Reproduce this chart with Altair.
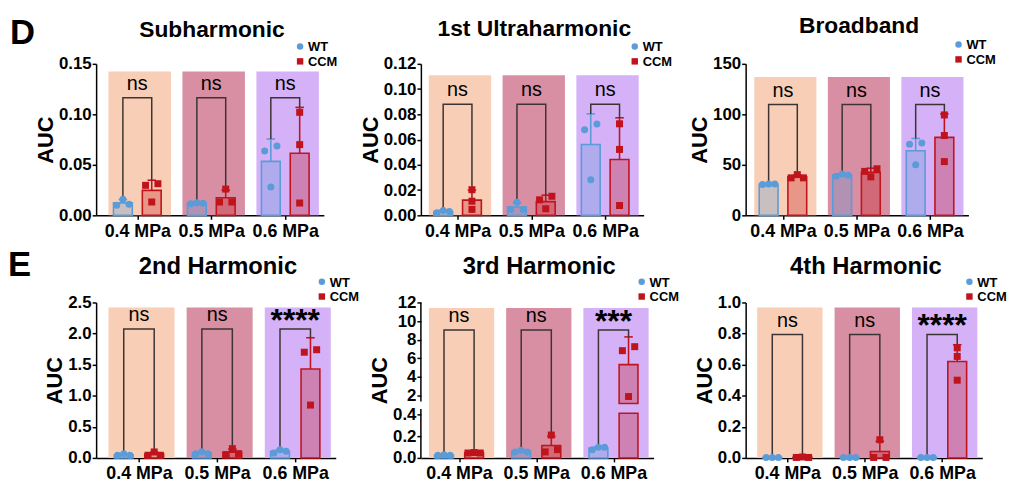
import altair as alt
import numpy as np
import pandas as pd

# ---------------- data ----------------
pressures = ["0.4 MPa", "0.5 MPa", "0.6 MPa"]
groups = ["WT", "CCM"]
panel_titles = ["Subharmonic", "1st Ultraharmonic", "Broadband",
                "2nd Harmonic", "3rd Harmonic", "4th Harmonic"]
panel_letters = ["D", "E"]

# replicate AUC values per pressure (listed left-to-right as drawn)
sub_wt = [[0.010, 0.016, 0.011], [0.0115, 0.0125, 0.012], [0.0636, 0.028, 0.0686]]
sub_ccm = [[0.0297, 0.0132, 0.0313], [0.0132, 0.026, 0.0132], [0.102, 0.070, 0.0122]]
ultra_wt = [[0.0021, 0.0039, 0.0031], [0.0047, 0.0104, 0.0047], [0.0678, 0.0282, 0.0723]]
ultra_ccm = [[0.0203, 0.0112, 0.0047], [0.0123, 0.0052, 0.0151], [0.0725, 0.0522, 0.0078]]
broad_wt = [[30.5, 31.0, 31.0], [38.7, 41.0, 39.7], [50.0, 70.3, 71.6]]
broad_ccm = [[37.1, 40.3, 37.1], [43.5, 38.1, 46.1], [99.4, 79.0, 53.2]]
h2_wt = [[0.043, 0.069, 0.043], [0.069, 0.100, 0.069], [0.080, 0.133, 0.106]]
h2_ccm = [[0.043, 0.096, 0.043], [0.053, 0.149, 0.069], [1.70, 0.85, 1.74]]
h3_wt = [[0.024, 0.030, 0.024], [0.055, 0.070, 0.055], [0.076, 0.097, 0.097]]
h3_ccm = [[0.045, 0.050, 0.045], [0.055, 0.21, 0.076], [6.82, 1.89, 7.25]]
h4_wt = [[0.002, 0.002, 0.002], [0.002, 0.002, 0.002], [0.002, 0.003, 0.003]]
h4_ccm = [[0.003, 0.006, 0.003], [0.003, 0.117, 0.003], [0.708, 0.653, 0.50]]

significance = [["ns", "ns", "ns"], ["ns", "ns", "ns"], ["ns", "ns", "ns"],
                ["ns", "ns", "****"], ["ns", "ns", "***"], ["ns", "ns", "****"]]
bracket_heights = [0.1164, 0.0879, 109.7, 2.074, 9.04, 0.794]
y_ticks = [[0, 0.05, 0.10, 0.15],
           [0, 0.02, 0.04, 0.06, 0.08, 0.10, 0.12],
           [0, 50, 100, 150],
           [0, 0.5, 1.0, 1.5, 2.0, 2.5],
           [0, 0.2, 0.4, 2, 4, 6, 8, 10, 12],
           [0, 0.2, 0.4, 0.6, 0.8, 1.0]]
all_wt = [sub_wt, ultra_wt, broad_wt, h2_wt, h3_wt, h4_wt]
all_ccm = [sub_ccm, ultra_ccm, broad_ccm, h2_ccm, h3_ccm, h4_ccm]

# ---------------- style / layout ----------------
FONT = "Liberation Sans"
BLUE = "#5a9bd8"
RED = "#c0141c"
BAND_COLORS = ["#f8cfb6", "#d98fa3", "#d5b2f7"]
BRACKET = "#3c3434"
GROUP_OFF = {"WT": -0.195, "CCM": 0.195}
BAND_LO, BAND_HI = -0.39, 0.455
XMAX = 2.455
BAR_PX = 19
JIT_PX = 6.5
CAP_PX = 4.5
LEG_STEP = 15
LEG_FS = 13

layout = [
    dict(w=230, h=153, xmin=-0.49, ydom=[0, 0.15], yrng=None, fmt=".2f", band_top=0.1424, lx=206, ly=-17.5, ty=-27, tfs=23),
    dict(w=225, h=153, xmin=-0.43, ydom=[0, 0.12], yrng=None, fmt=".2f", band_top=0.1109, lx=216, ly=-17.5, ty=-28, tfs=23),
    dict(w=225, h=153, xmin=-0.44, ydom=[0, 150], yrng=None, fmt="d", band_top=137, lx=215, ly=-19.5, ty=-31, tfs=23),
    dict(w=242, h=157, xmin=-0.485, ydom=[0, 2.5], yrng=None, fmt=".1f", band_top=2.42, lx=228, ly=-21, ty=-29, tfs=24),
    dict(w=235, h=157, xmin=-0.43, ydom=[0, 0.45, 1.36, 12], yrng=[157, 107.5, 100, 0], fmt=None, band_top=11.4, lx=223, ly=-21, ty=-29, tfs=24,
         brk=(0.41, 1.12)),
    dict(w=239, h=157, xmin=-0.475, ydom=[0, 1.0], yrng=None, fmt=".1f", band_top=0.968, lx=226, ly=-21, ty=-29, tfs=24),
]
letter_pos = [(-87, -20, 35), (-89, -27, 35)]

fill_scale = alt.Scale(domain=groups, range=[BLUE, RED])
shape_scale = alt.Scale(domain=groups, range=["circle", "square"])
band_scale = alt.Scale(domain=pressures, range=BAND_COLORS)
label_expr = "[" + ",".join(f"'{p}'" for p in pressures) + "][datum.value]"


def ypix(cfg, v):
    if cfg["yrng"] is not None:
        return np.interp(v, cfg["ydom"], cfg["yrng"])
    return (1 - np.asarray(v) / cfg["ydom"][-1]) * cfg["h"]


def jitter_px(cfg, vals):
    pix = ypix(cfg, np.asarray(vals, dtype=float))
    order = np.argsort(pix)
    clusters, cur = [], [order[0]]
    for a, b in zip(order[:-1], order[1:]):
        if abs(pix[b] - pix[a]) < 8:
            cur.append(b)
        else:
            clusters.append(cur)
            cur = [b]
    clusters.append(cur)
    out = np.zeros(len(vals))
    for c in clusters:
        c = sorted(c)
        offs = np.linspace(-JIT_PX, JIT_PX, len(c)) if len(c) > 1 else [0.0]
        for idx, o in zip(c, offs):
            out[idx] = o
    return out


def make_panel(i):
    cfg = layout[i]
    W, H = cfg["w"], cfg["h"]
    step = W / (XMAX - cfg["xmin"])
    pts, bars, errs, brk_rows, sig_rows = [], [], [], [], []
    for pi, p in enumerate(pressures):
        tops = {}
        for g, src in zip(groups, [all_wt[i], all_ccm[i]]):
            vals = np.asarray(src[pi], dtype=float)
            mean, sd = vals.mean(), vals.std(ddof=1)
            xc = pi + GROUP_OFF[g]
            for v, j in zip(vals, jitter_px(cfg, vals)):
                pts.append(dict(pressure=p, group=g, x=xc + j / step, value=v))
            if "brk" in cfg and mean > cfg["brk"][1]:
                bars.append(dict(pressure=p, group=g, x=xc, lo=0.0, hi=cfg["brk"][0]))
                bars.append(dict(pressure=p, group=g, x=xc, lo=cfg["brk"][1], hi=mean))
            else:
                bars.append(dict(pressure=p, group=g, x=xc, lo=0.0, hi=mean))
            errs.append(dict(pressure=p, group=g, x=xc, c0=xc - CAP_PX / step, c1=xc + CAP_PX / step,
                             mean=mean, upper=mean + sd))
            tops[g] = mean + sd
        hb = bracket_heights[i]
        xw, xc2 = pi + GROUP_OFF["WT"], pi + GROUP_OFF["CCM"]
        for k, (xx, yy) in enumerate([(xw, tops["WT"]), (xw, hb), (xc2, hb), (xc2, tops["CCM"])]):
            brk_rows.append(dict(pressure=p, x=xx, y=yy, ord=k))
        sig_rows.append(dict(pressure=p, x=float(pi), y=hb, label=significance[i][pi]))

    df_pts, df_bars, df_err = pd.DataFrame(pts), pd.DataFrame(bars), pd.DataFrame(errs)
    df_brk, df_sig = pd.DataFrame(brk_rows), pd.DataFrame(sig_rows)
    df_band = pd.DataFrame(dict(pressure=pressures,
                                x0=[k + BAND_LO for k in range(3)],
                                x1=[k + BAND_HI for k in range(3)],
                                top=[cfg["band_top"]] * 3, bottom=[0.0] * 3))

    if cfg["yrng"] is not None:
        yscale = alt.Scale(domain=cfg["ydom"], range=cfg["yrng"], nice=False, zero=False)
        yaxis = alt.Axis(title="AUC", values=y_ticks[i], tickCount=30, domain=False, labelOverlap=False,
                         labelExpr="datum.value < 1 ? format(datum.value, '.1f') : format(datum.value, 'd')")
    else:
        yscale = alt.Scale(domain=cfg["ydom"], nice=False, zero=False)
        yaxis = alt.Axis(title="AUC", values=y_ticks[i], tickCount=30, format=cfg["fmt"], labelOverlap=False)
    xscale = alt.Scale(domain=[cfg["xmin"], XMAX], nice=False, zero=False)
    xaxis = alt.Axis(title=None, values=[0, 1, 2], tickCount=30, labelExpr=label_expr, labelOverlap=False,
                     labelFlush=False, labelPadding=3)

    fill_enc = alt.Fill("group:N", scale=fill_scale, legend=None)
    stroke_enc = alt.Stroke("group:N", scale=fill_scale, legend=None)

    bands = alt.Chart(df_band).mark_rect().encode(
        x=alt.X("x0:Q", scale=xscale, axis=xaxis), x2="x1:Q",
        y=alt.Y("top:Q", scale=yscale, axis=yaxis), y2="bottom:Q",
        color=alt.Color("pressure:N", scale=band_scale, legend=None))
    barl = alt.Chart(df_bars).mark_bar(size=BAR_PX, orient="vertical", fillOpacity=0.3, strokeWidth=1.6).encode(
        x="x:Q", y="hi:Q", y2="lo:Q", fill=fill_enc, stroke=stroke_enc)
    errl = alt.Chart(df_err).mark_rule(strokeWidth=1.6).encode(
        x="x:Q", y="mean:Q", y2="upper:Q", stroke=stroke_enc)
    capl = alt.Chart(df_err).mark_rule(strokeWidth=1.6).encode(
        x="c0:Q", x2="c1:Q", y="upper:Q", stroke=stroke_enc)
    brkl = alt.Chart(df_brk).mark_line(color=BRACKET, strokeWidth=1.5).encode(
        x="x:Q", y="y:Q", order="ord:Q", detail="pressure:N")
    ptl = alt.Chart(df_pts).mark_point(filled=True, size=50, opacity=1, strokeWidth=0).encode(
        x="x:Q", y="value:Q", fill=fill_enc, shape=alt.Shape("group:N", scale=shape_scale, legend=None))
    ns = alt.Chart(df_sig).transform_filter("datum.label == 'ns'").mark_text(
        font=FONT, fontSize=20, color="black", baseline="alphabetic", dy=-8).encode(
        x="x:Q", y="y:Q", text="label:N")
    stars = alt.Chart(df_sig).transform_filter("datum.label != 'ns'").mark_text(
        font=FONT, fontSize=32, fontWeight="bold", color="black", baseline="alphabetic", dy=2).encode(
        x="x:Q", y="y:Q", text="label:N")
    title = alt.Chart(pd.DataFrame({"t": [panel_titles[i]]})).mark_text(
        font=FONT, fontSize=cfg["tfs"], fontWeight="bold", color="black", align="center", baseline="alphabetic").encode(
        x=alt.value(W / 2 + 2), y=alt.value(cfg["ty"]), text="t:N")
    layers = [bands, barl, errl, capl, brkl, ptl, ns, stars, title]

    df_leg = pd.DataFrame({"group": groups})
    for k, g in enumerate(groups):
        sub = alt.Chart(df_leg).transform_filter(f"datum.group == '{g}'")
        yk = cfg["ly"] + LEG_STEP * k
        layers.append(sub.mark_point(filled=True, size=42, opacity=1, strokeWidth=0).encode(
            x=alt.value(cfg["lx"]), y=alt.value(yk), fill=fill_enc,
            shape=alt.Shape("group:N", scale=shape_scale, legend=None)))
        layers.append(sub.mark_text(font=FONT, fontSize=LEG_FS, fontWeight="bold", color="black",
                                    align="left", baseline="middle").encode(
            x=alt.value(cfg["lx"] + 8), y=alt.value(yk + 1), text="group:N"))

    if i in (0, 3):
        lx, ly, lfs = letter_pos[i // 3]
        layers.append(alt.Chart(pd.DataFrame({"t": [panel_letters[i // 3]]})).mark_text(
            font=FONT, fontSize=lfs, fontWeight="bold", color="black", align="left", baseline="alphabetic").encode(
            x=alt.value(lx), y=alt.value(ly), text="t:N"))

    if cfg["yrng"] is not None:
        seg = pd.DataFrame({"y0": [cfg["ydom"][0], cfg["ydom"][2]], "y1": [cfg["ydom"][1], cfg["ydom"][3]]})
        layers.append(alt.Chart(seg).mark_rule(color="black", strokeWidth=1.5).encode(
            x=alt.value(0), y="y0:Q", y2="y1:Q"))

    return alt.layer(*layers).properties(width=W, height=H)


panels = [make_panel(i) for i in range(6)]
chart = alt.concat(*panels, columns=3, spacing={"row": 84, "column": 86},
                   bounds="flush", align="all").properties(
    padding={"left": 0, "top": 5, "right": 5, "bottom": 5}
).configure_view(stroke=None).configure_axis(
    labelFont=FONT, labelFontWeight="bold", labelFontSize=17, labelColor="black",
    titleFont=FONT, titleFontWeight="bold", titleFontSize=22, titleColor="black", titlePadding=1,
    domainColor="black", domainWidth=1.5, tickColor="black", tickWidth=1.5, tickSize=4,
    grid=False, zindex=1
).configure_axisY(labelPadding=1).configure_axisX(labelFontSize=18)

chart.save("out.html", embed_options={"renderer": "svg", "actions": False})
